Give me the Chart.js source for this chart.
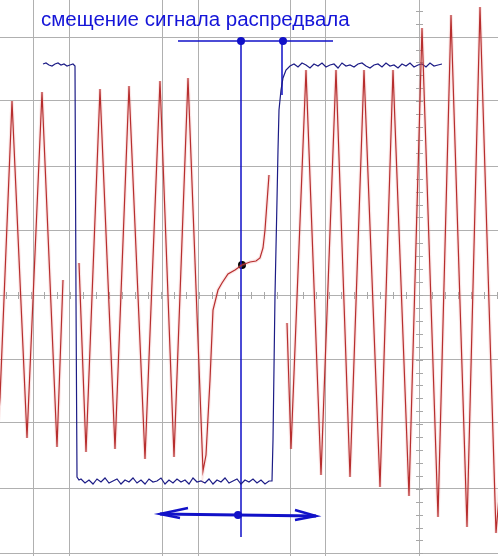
<!DOCTYPE html>
<html>
<head>
<meta charset="utf-8">
<script src="https://cdn.jsdelivr.net/npm/chart.js@4.4.1/dist/chart.umd.min.js"></script>
<style>
  html, body { margin: 0; padding: 0; background: #ffffff; }
  #wrap { width: 498px; height: 556px; }
</style>
</head>
<body>
<div id="wrap"><canvas id="c" width="498" height="556"></canvas></div>
<script>
// ---- Title ----
const titleText = "смещение сигнала распредвала";

// ---- Grid (axis units) ----
const gridX = [33, 69, 162, 198, 290, 325, 419];
const gridY = [258, 194, 129, 65, 0, -64, -128, -193, -258];

// ---- Crank sensor signal (red), time units / level units ----
const redT = [-3, 0, 12, 27, 42, 57, 63, 70, 79, 86, 100, 115, 129, 145, 160, 174, 188, 203,
  206, 210, 213, 218, 222, 228, 235, 242, 250, 256, 260, 263, 265, 269, 278, 287, 291,
  306, 321, 336, 350, 364, 380, 393, 409, 422, 438, 451, 467, 480, 496, 505];
const redV = [-145, -103, 194, -143, 203, -152, 15, null, 32, -157, 206, -154, 209, -164, 214, -162, 217, -176,
  -160, -85, -15, 5, 12, 21, 25, 30, 33, 34, 37, 47, 65, 120, null, -28, -154,
  225, -180, 225, -182, 225, -192, 225, -201, 267, -222, 280, -232, 288, -238, -130];

// ---- Cam sensor signal (blue) ----
const camHighLeftStart = 43, camHighLeftStep = 3;
const camHighLeftV = [231, 232, 230, 229, 231, 232, 230, 231, 229, 230, 231];
const camFallT = [75, 76, 77, 79];
const camFallV = [229, -5, -182, -185];
const camLowStart = 81, camLowStep = 4;
const camLowV = [-184, -188, -185, -189, -184, -187, -183, -188, -186, -184,
  -189, -185, -187, -183, -188, -185, -189, -184, -187, -186,
  -183, -189, -185, -188, -184, -187, -185, -189, -183, -187,
  -186, -188, -184, -189, -185, -187, -183, -188, -186, -184,
  -189, -185, -187, -184, -188, -185, -189, -186];
const camRiseT = [272, 273, 275, 277, 278, 279, 281, 283, 286];
const camRiseV = [-186, -145, 0, 95, 145, 185, 205, 217, 225];
const camHighRightStart = 290, camHighRightStep = 4;
const camHighRightV = [229, 231, 228, 232, 230, 227, 231, 229, 232, 228,
  230, 231, 227, 232, 229, 230, 228, 231, 232, 229,
  227, 230, 231, 228, 232, 229, 230, 227, 231, 229,
  232, 228, 230, 231, 228, 232, 229, 230, 231];

// ---- Cursors / markers ----
const cursorHT = [178, 333], cursorHV = [254, 254];
const cursor1T = [241, 241], cursor1V = [254, -242];
const cursor2T = [282, 282], cursor2V = [254, 200];
const cursorDotT = [241, 283], cursorDotV = [254, 254];
const markT = [242], markV = [30];
const arrowT = [160, 316], arrowV = [-219, -221];
const arrowDotT = [238], arrowDotV = [-220];
const arrowLeftT = [188, 160, 180], arrowLeftV = [-213, -219, -223];
const arrowRightT = [295, 316, 295], arrowRightV = [-215, -221, -225];

function pts(t, v) { return t.map((x, i) => ({ x: x, y: v[i] })); }
function seq(start, step, v) { return v.map((y, i) => ({ x: start + step * i, y: y })); }

const camData = [].concat(
  seq(camHighLeftStart, camHighLeftStep, camHighLeftV),
  pts(camFallT, camFallV),
  seq(camLowStart, camLowStep, camLowV),
  pts(camRiseT, camRiseV),
  seq(camHighRightStart, camHighRightStep, camHighRightV)
);

const red = '#a81414', navy = '#1c1c86', cur = '#1111c8';

function lineDs(data, color, width, extra) {
  return Object.assign({ data: data, borderColor: color, borderWidth: width, pointRadius: 0,
    fill: false, tension: 0, spanGaps: false }, extra || {});
}

const minorTicks = {
  id: 'minorTicks',
  beforeDatasetsDraw(chart) {
    const { ctx, scales: { x, y } } = chart;
    const cx = x.getPixelForValue(419), cy = y.getPixelForValue(0);
    const step = (y.getPixelForValue(0) - y.getPixelForValue(64.6)) / 5;
    ctx.save();
    ctx.strokeStyle = '#a8a8a8';
    ctx.lineWidth = 1;
    ctx.beginPath();
    for (let p = cy; p > 0; p -= step) { ctx.moveTo(cx - 3, Math.round(p) + 0.5); ctx.lineTo(cx + 4, Math.round(p) + 0.5); }
    for (let p = cy + step; p < chart.height; p += step) { ctx.moveTo(cx - 3, Math.round(p) + 0.5); ctx.lineTo(cx + 4, Math.round(p) + 0.5); }
    for (let p = cx; p > 0; p -= step) { ctx.moveTo(Math.round(p) + 0.5, cy - 3); ctx.lineTo(Math.round(p) + 0.5, cy + 4); }
    for (let p = cx + step; p < chart.width; p += step) { ctx.moveTo(Math.round(p) + 0.5, cy - 3); ctx.lineTo(Math.round(p) + 0.5, cy + 4); }
    ctx.stroke();
    ctx.restore();
  }
};

const titlePlugin = {
  id: 'titleText',
  afterDatasetsDraw(chart) {
    const { ctx, scales: { x, y } } = chart;
    const left = x.getPixelForValue(41), right = x.getPixelForValue(350);
    const base = y.getPixelForValue(269);
    ctx.save();
    let size = 20;
    ctx.font = size + 'px "Liberation Sans", Arial, sans-serif';
    const w = ctx.measureText(titleText).width;
    size = size * (right - left) / w;
    ctx.font = size.toFixed(2) + 'px "Liberation Sans", Arial, sans-serif';
    ctx.fillStyle = '#1515d8';
    ctx.textBaseline = 'alphabetic';
    ctx.fillText(titleText, left, base);
    ctx.restore();
  }
};

new Chart(document.getElementById('c'), {
  type: 'line',
  data: {
    datasets: [
      lineDs(pts(redT, redV), 'rgba(235,140,140,0.22)', 3.5),
      lineDs(pts(redT, redV), red, 1.2),
      lineDs(camData, navy, 1.2),
      lineDs(pts(cursorHT, cursorHV), cur, 1.5),
      lineDs(pts(cursor1T, cursor1V), cur, 1.5),
      lineDs(pts(cursor2T, cursor2V), cur, 1.5),
      lineDs(pts(arrowT, arrowV), cur, 3),
      lineDs(pts(arrowLeftT, arrowLeftV), cur, 2.5),
      lineDs(pts(arrowRightT, arrowRightV), cur, 2.5),
      lineDs(pts(cursorDotT, cursorDotV), 'rgba(0,0,0,0)', 0, { showLine: false, pointRadius: 4, pointBackgroundColor: cur, pointBorderWidth: 0 }),
      lineDs(pts(arrowDotT, arrowDotV), 'rgba(0,0,0,0)', 0, { showLine: false, pointRadius: 4, pointBackgroundColor: cur, pointBorderWidth: 0 }),
      lineDs(pts(markT, markV), 'rgba(0,0,0,0)', 0, { showLine: false, pointRadius: 4, pointBackgroundColor: '#000000', pointBorderWidth: 0 })
    ]
  },
  options: {
    responsive: false,
    animation: false,
    devicePixelRatio: 1,
    layout: { padding: 0, autoPadding: false },
    plugins: { legend: { display: false }, tooltip: { enabled: false }, title: { display: false } },
    scales: {
      x: {
        type: 'linear', min: 0, max: 498,
        afterBuildTicks: (s) => { s.ticks = gridX.map(v => ({ value: v })); },
        ticks: { display: false },
        border: { display: false },
        grid: { color: '#b0b0b0', lineWidth: 1, drawTicks: false }
      },
      y: {
        type: 'linear', min: -261, max: 295,
        afterBuildTicks: (s) => { s.ticks = gridY.map(v => ({ value: v })); },
        ticks: { display: false },
        border: { display: false },
        grid: { color: '#b0b0b0', lineWidth: 1, drawTicks: false }
      }
    }
  },
  plugins: [minorTicks, titlePlugin]
});
</script>
</body>
</html>
